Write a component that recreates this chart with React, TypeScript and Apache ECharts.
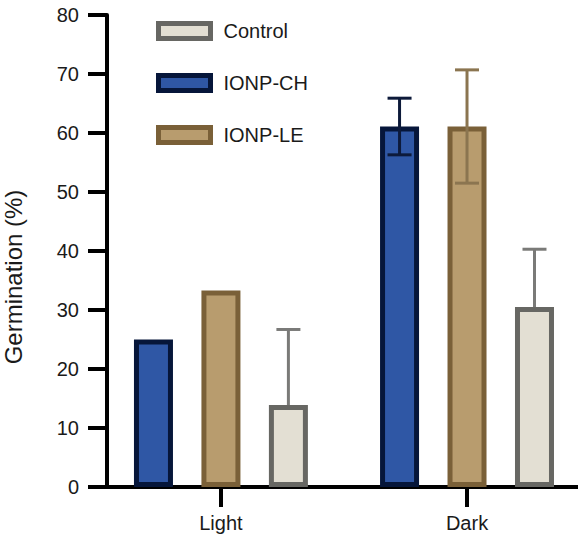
import React, { useEffect, useRef } from "react";
import * as echarts from "echarts";

const categories = ["Light", "Dark"];
const legendOrder = ["Control", "IONP-CH", "IONP-LE"];
const chValues = [25.0, 61.1];
const chErr = [0, 4.8];
const leValues = [33.3, 61.1];
const leErr = [0, 9.6];
const ctrlValues = [13.9, 30.5];
const ctrlErr = [12.8, 9.8];
const yTicks = { min: 0, max: 80, interval: 10 };
const xRange = { min: -0.463, max: 1.451 };

const FONT = "'Liberation Sans', Arial, sans-serif";
const BAR_W = 39;
const GAP = 0.73;

export default function App() {
  const ref = useRef<HTMLDivElement>(null);
  useEffect(() => {
    document.body.style.margin = "0";
    if (!ref.current) return;
    const chart = echarts.init(ref.current, null, { renderer: "svg" });
    const seriesDefs = [
      { name: "IONP-CH", values: chValues, err: chErr, fill: "#2f57a5", border: "#06163a", errColor: "#0d1a3a", lower: true, idx: 0 },
      { name: "IONP-LE", values: leValues, err: leErr, fill: "#b89c6e", border: "#7a6038", errColor: "#8b7550", lower: true, idx: 1 },
      { name: "Control", values: ctrlValues, err: ctrlErr, fill: "#e3dfd3", border: "#676763", errColor: "#7a7a78", lower: false, idx: 2 },
    ];
    const catIdx = categories.map((_, i) => i);
    const bars = seriesDefs.map((s) => ({
      name: s.name,
      type: "bar",
      data: s.values.map((v, i) => [catIdx[i], v]),
      barWidth: BAR_W,
      barGap: GAP * 100 + "%",
      itemStyle: { color: s.fill, borderColor: s.border, borderWidth: 5 },
      z: 2,
    }));
    const errs = seriesDefs.map((s) => ({
      name: s.name + " error",
      type: "custom",
      z: 5,
      silent: true,
      data: s.values.map((v, i) => [catIdx[i], v, s.err[i], s.lower ? 1 : 0]),
      renderItem: (params: any, api: any) => {
        const cat = api.value(0);
        const val = api.value(1);
        const e = api.value(2);
        const lower = api.value(3);
        if (!e) return { type: "group", children: [] };
        const offset = (s.idx - 1) * BAR_W * (1 + GAP);
        const top = api.coord([cat, val + e]);
        const mid = api.coord([cat, val]);
        const bot = api.coord([cat, lower ? val - e : val]);
        const x = top[0] + offset;
        const cap = 12;
        const style = { stroke: s.errColor, lineWidth: 3 };
        const children: any[] = [
          { type: "line", shape: { x1: x, y1: top[1], x2: x, y2: lower ? bot[1] : mid[1] }, style },
          { type: "line", shape: { x1: x - cap, y1: top[1], x2: x + cap, y2: top[1] }, style },
        ];
        if (lower) {
          children.push({ type: "line", shape: { x1: x - cap, y1: bot[1], x2: x + cap, y2: bot[1] }, style });
        }
        return { type: "group", children };
      },
    }));
    chart.setOption({
      animation: false,
      backgroundColor: "#ffffff",
      grid: { left: 107, right: 0, top: 15, bottom: 51, containLabel: false, outerBoundsMode: "none" },
      legend: {
        data: legendOrder,
        orient: "vertical",
        left: 151,
        top: 16,
        icon: "rect",
        itemWidth: 52,
        itemHeight: 15,
        itemGap: 32,
        itemStyle: { borderWidth: 5 },
        textStyle: { fontFamily: FONT, fontSize: 20, color: "#1a1a1a", padding: [0, 0, 0, 8], lineHeight: 20 },
      },
      xAxis: {
        type: "value",
        min: xRange.min,
        max: xRange.max,
        splitLine: { show: false },
        axisLine: { show: true, onZero: false, lineStyle: { color: "#000", width: 4 } },
        axisTick: { show: true, customValues: catIdx, length: 20, lineStyle: { color: "#000", width: 4 } },
        axisLabel: {
          customValues: catIdx,
          formatter: (v: number) => categories[Math.round(v)] ?? "",
          fontFamily: FONT,
          fontSize: 20,
          color: "#1a1a1a",
          margin: 26,
        },
      },
      yAxis: {
        type: "value",
        min: yTicks.min,
        max: yTicks.max,
        interval: yTicks.interval,
        name: "Germination (%)",
        nameLocation: "middle",
        nameGap: 82,
        nameTextStyle: { fontFamily: FONT, fontSize: 24, color: "#1a1a1a", padding: [0, 52, 0, 0] },
        axisLine: { show: true, onZero: false, lineStyle: { color: "#000", width: 4 } },
        axisTick: { show: true, length: 19, lineStyle: { color: "#000", width: 4 } },
        axisLabel: { fontFamily: FONT, fontSize: 20, color: "#1a1a1a", margin: 28 },
        splitLine: { show: false },
      },
      series: [...bars, ...errs],
    });
    return () => chart.dispose();
  }, []);
  return <div ref={ref} style={{ width: 578, height: 538 }} />;
}
